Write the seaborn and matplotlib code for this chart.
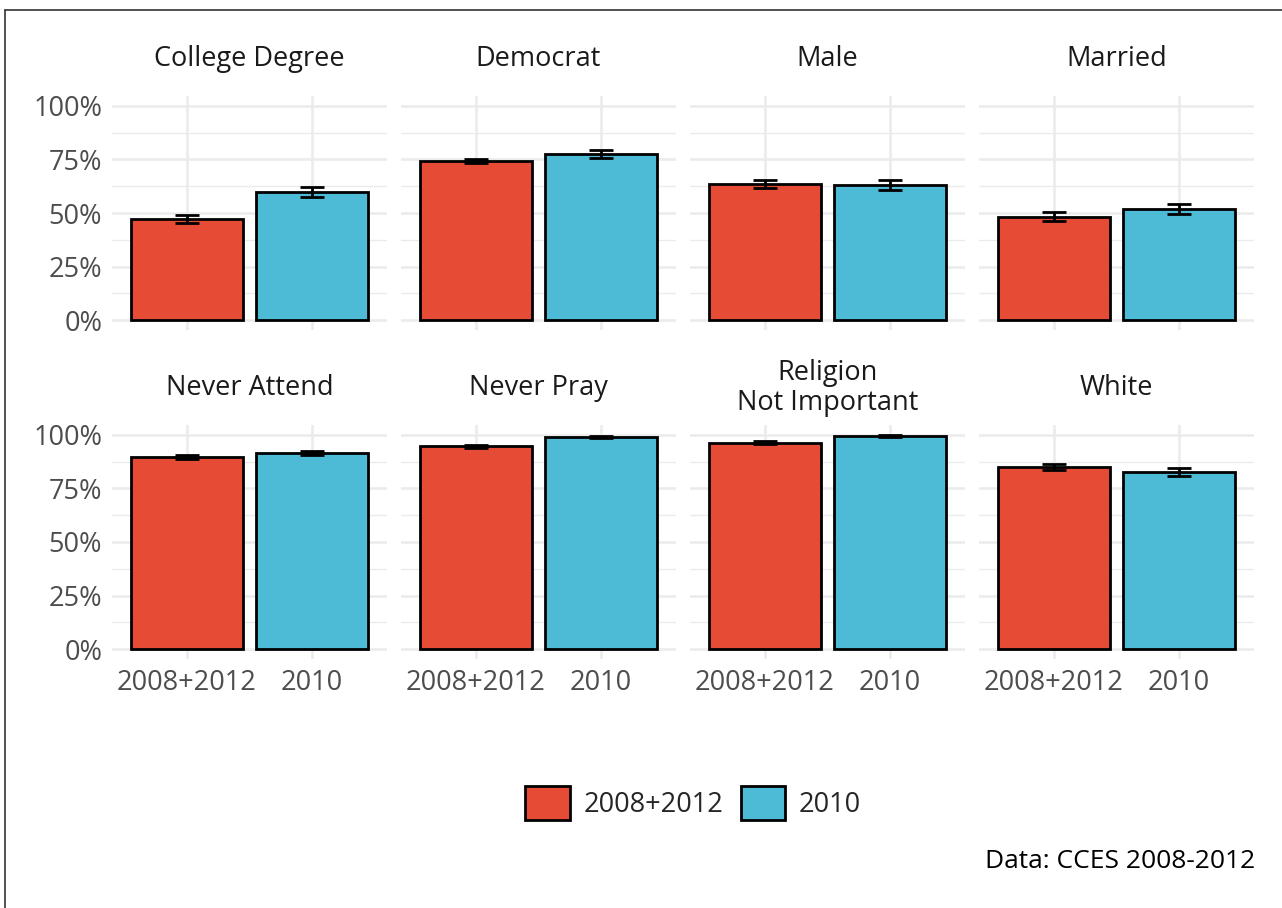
import matplotlib
matplotlib.use("Agg")
import matplotlib.pyplot as plt
from matplotlib.lines import Line2D
from matplotlib.patches import Patch
from matplotlib.ticker import FixedLocator, PercentFormatter
import seaborn as sns
import pandas as pd

# data
panels = ["College Degree", "Democrat", "Male", "Married",
          "Never Attend", "Never Pray", "Religion\nNot Important", "White"]
groups = ["2008+2012", "2010"]
share_0812 = [0.472, 0.743, 0.636, 0.483, 0.896, 0.947, 0.964, 0.850]
share_2010 = [0.598, 0.776, 0.630, 0.519, 0.915, 0.989, 0.995, 0.827]
err_0812 = [0.019, 0.011, 0.020, 0.020, 0.008, 0.006, 0.005, 0.012]
err_2010 = [0.021, 0.020, 0.023, 0.024, 0.010, 0.004, 0.003, 0.017]

colors = {"2008+2012": "#E64B35", "2010": "#4DBBD5"}

rows = []
for i, p in enumerate(panels):
    rows.append({"panel": p, "group": groups[0], "share": share_0812[i], "err": err_0812[i]})
    rows.append({"panel": p, "group": groups[1], "share": share_2010[i], "err": err_2010[i]})
df = pd.DataFrame(rows)

sns.set_theme(style="white")
plt.rcParams["font.family"] = ["Open Sans", "DejaVu Sans"]

W, H = 1282, 908
fig = plt.figure(figsize=(W / 100, H / 100), dpi=100)

lefts = [112, 401, 690, 979]
pw = 275
row_tops = [96, 425]
ph = 234
fs = 19.5

for i, p in enumerate(panels):
    r, c = divmod(i, 4)
    ax = fig.add_axes([lefts[c] / W, 1 - (row_tops[r] + ph) / H, pw / W, ph / H])
    sub = df[df["panel"] == p]
    sns.barplot(data=sub, x="group", y="share", hue="group", order=groups,
                hue_order=groups, palette=colors, dodge=False, legend=False,
                width=0.9, saturation=1, edgecolor="black", linewidth=2,
                errorbar=None, ax=ax, zorder=3)
    ax.errorbar(x=range(len(groups)), y=sub["share"].values, yerr=sub["err"].values,
                fmt="none", ecolor="black", elinewidth=2.0, capsize=8.5,
                capthick=2.0, zorder=4)
    ax.set_xlim(-0.6, 1.6)
    ax.set_ylim(-0.046, 1.046)
    ax.yaxis.set_major_locator(FixedLocator([0, 0.25, 0.5, 0.75, 1.0]))
    ax.yaxis.set_minor_locator(FixedLocator([0.125, 0.375, 0.625, 0.875]))
    ax.yaxis.set_major_formatter(PercentFormatter(1.0, decimals=0))
    ax.grid(True, which="major", color="#EBEBEB", linewidth=1.8, zorder=0)
    ax.grid(True, which="minor", axis="y", color="#EBEBEB", linewidth=1.0, zorder=0)
    ax.set_axisbelow(True)
    for s in ax.spines.values():
        s.set_visible(False)
    ax.set_xlabel("")
    ax.set_ylabel("")
    ax.tick_params(axis="both", which="both", length=0, labelsize=fs,
                   labelcolor="#4D4D4D", pad=7)
    if c != 0:
        ax.tick_params(axis="y", labelleft=False)
    if r == 0:
        ax.tick_params(axis="x", labelbottom=False)
    # facet strip label, centred in the strip above the panel
    ax.text(0.5, 1 + 37 / ph, p, transform=ax.transAxes, ha="center", va="center",
            fontsize=fs, color="#1A1A1A", linespacing=1.1)

# legend
handles = [Patch(facecolor=colors[g], edgecolor="black", linewidth=2) for g in groups]
fig.legend(handles, groups, loc="center", bbox_to_anchor=(693 / W, 1 - 803 / H),
           ncol=2, frameon=False, fontsize=fs, handlelength=1.65, handleheight=1.5,
           handletextpad=0.5, columnspacing=0.65)

fig.text(1255 / W, 1 - 862 / H, "Data: CCES 2008-2012", ha="right", va="center",
         fontsize=19, color="black")

# outer frame (only left/top edges are inside the crop)
fig.add_artist(Line2D([5 / W, 5 / W], [0, 1 - 10 / H], color="#333333", linewidth=1.2,
                      transform=fig.transFigure))
fig.add_artist(Line2D([5 / W, 1], [1 - 10 / H, 1 - 10 / H], color="#333333", linewidth=1.2,
                      transform=fig.transFigure))

fig.savefig("out.png", dpi=100, facecolor="white")
